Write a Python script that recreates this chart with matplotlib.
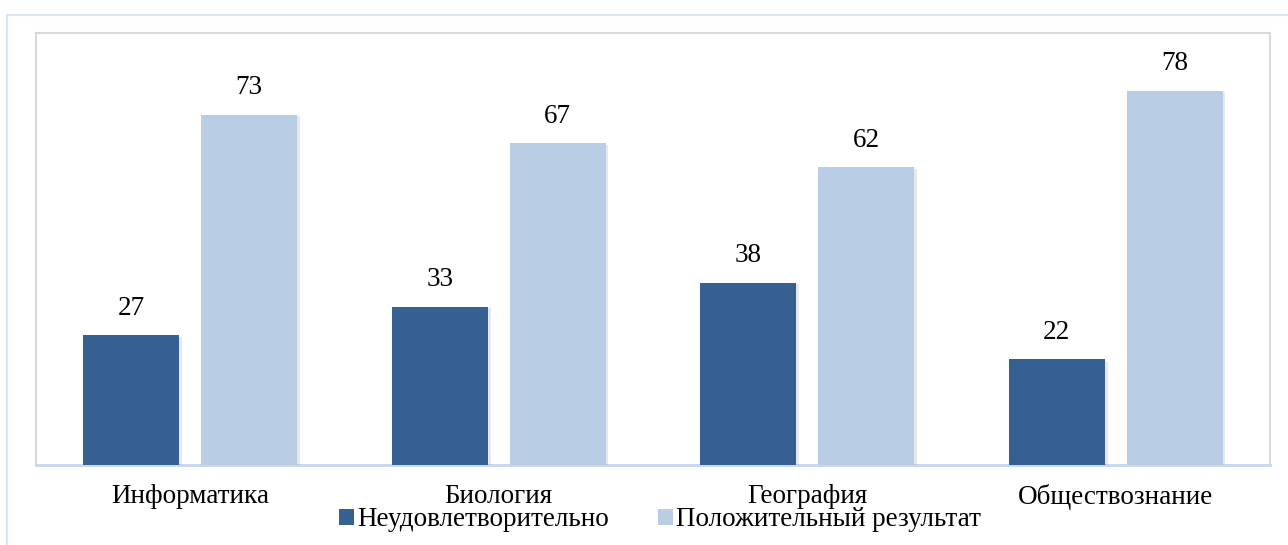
import matplotlib
matplotlib.use("Agg")
import matplotlib.pyplot as plt
import numpy as np
from matplotlib.patches import Rectangle, Patch
import matplotlib.patheffects as pe

categories = ["Информатика", "Биология", "География", "Обществознание"]
unsatisfactory = [27, 33, 38, 22]
positive = [73, 67, 62, 78]
series_names = ["Неудовлетворительно", "Положительный результат"]

dark = "#376092"
light = "#B9CDE5"

plt.rcParams['font.family'] = ['Liberation Serif', 'DejaVu Serif']
FS = 19.5

W, H = 1288, 545
fig = plt.figure(figsize=(W/100, H/100), dpi=100)

# outer frame
fig.patches.append(Rectangle((7/W, -0.1), 1.2, 1 - 15/H + 0.1, transform=fig.transFigure,
                             fill=False, edgecolor="#DAE5F5", linewidth=1.5, zorder=0))

ax = fig.add_axes([36/W, (H-465)/H, 1234/W, 432/H])
x = np.arange(len(categories))
bw = 0.311
off = 0.191
shadow = [pe.SimplePatchShadow(offset=(2, -1), alpha=0.18, shadow_rgbFace="gray"), pe.Normal()]
b1 = ax.bar(x - off, unsatisfactory, bw, color=dark, zorder=3, path_effects=shadow)
b2 = ax.bar(x + off, positive, bw, color=light, zorder=3, path_effects=shadow)
for bars, vals in ((b1, unsatisfactory), (b2, positive)):
    for r, v in zip(bars, vals):
        ax.text(r.get_x() + r.get_width()/2, v + 5.6, str(v), ha="center", va="center",
                fontsize=FS, color="black")

ax.set_xlim(-0.5, len(categories) - 0.5)
ax.set_ylim(0, 90)
ax.set_yticks([])
ax.set_xticks(x)
ax.set_xticklabels(categories, fontsize=FS)
ax.tick_params(axis="x", length=0, pad=14)
for s in ("left", "top", "right"):
    ax.spines[s].set_color("#D9D9D9")
    ax.spines[s].set_linewidth(1.5)
ax.spines["bottom"].set_color("#C6D6EE")
ax.spines["bottom"].set_linewidth(2)

handles = [Patch(facecolor=dark), Patch(facecolor=light)]
fig.legend(handles, series_names, loc="center", bbox_to_anchor=(660/W, 1 - 520/H), ncol=2,
           frameon=False, fontsize=FS, handlelength=0.55, handleheight=0.5,
           handletextpad=0.12, columnspacing=1.8, borderpad=0)

fig.savefig("out.png", dpi=100)
